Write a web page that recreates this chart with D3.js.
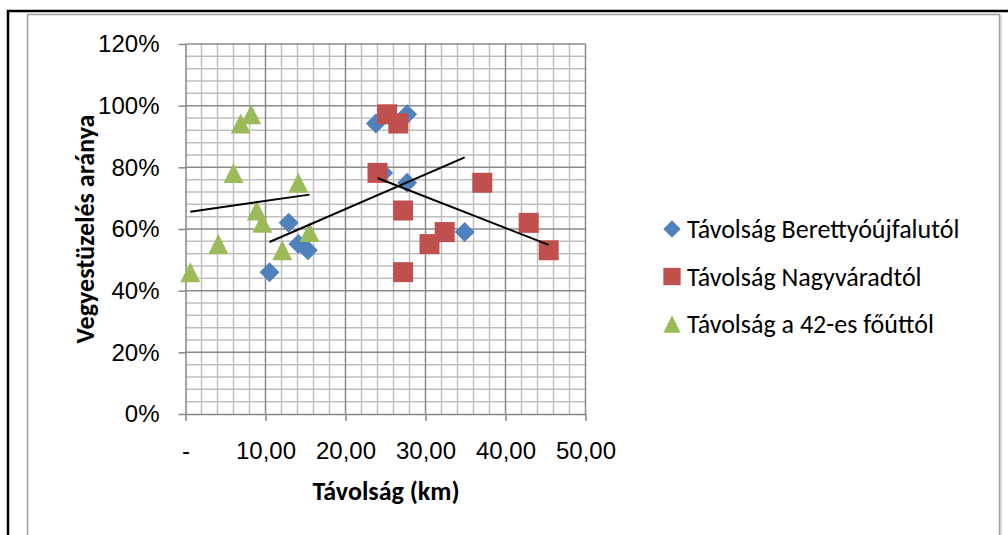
<!DOCTYPE html>
<html>
<head>
<meta charset="utf-8">
<script src="https://cdn.jsdelivr.net/npm/d3@7"></script>
<style>
  body { margin: 0; background: #fff; }
  svg { display: block; font-family: Carlito, Calibri, Lato, sans-serif; }
</style>
</head>
<body>
<script>
// Vegyestüzelés aránya vs. távolság - three series share the same y values
var share = [0.972, 0.942, 0.782, 0.75, 0.66, 0.62, 0.59, 0.551, 0.531, 0.46];
var distBerettyo = [27.7, 23.8, 24.7, 27.7, 27.2, 12.9, 34.9, 14.1, 15.3, 10.5];
var distNagyvarad = [25.2, 26.6, 24.0, 37.1, 27.2, 42.9, 32.4, 30.5, 45.4, 27.2];
var dist42 = [8.2, 6.9, 6.0, 14.1, 8.9, 9.6, 15.5, 4.1, 12.1, 0.6];

var seriesNames = ["Távolság Berettyóújfalutól", "Távolság Nagyváradtól", "Távolság a 42-es főúttól"];
var seriesColors = ["#4F81BD", "#C0504D", "#9BBB59"];

var xTicks = [0, 10, 20, 30, 40, 50];
var yTicks = [0, 0.2, 0.4, 0.6, 0.8, 1.0, 1.2];

var width = 1008,
    height = 535;

var x = d3.scaleLinear().domain([0, 50]).range([185.5, 585.5]);
var y = d3.scaleLinear().domain([0, 1.2]).range([414, 44]);

// Excel-like marker shapes (fill the box)
var diamond = {draw: function (c, s) { var r = Math.sqrt(s) / 2; c.moveTo(0, -r); c.lineTo(r, 0); c.lineTo(0, r); c.lineTo(-r, 0); c.closePath(); }};
var square = {draw: function (c, s) { var r = Math.sqrt(s) / 2; c.rect(-r, -r, 2 * r, 2 * r); }};
var triangle = {draw: function (c, s) { var r = Math.sqrt(s) / 2; c.moveTo(0, -r); c.lineTo(r, r); c.lineTo(-r, r); c.closePath(); }};
var shapes = [diamond, square, triangle];

var svg = d3.select("body").append("svg")
    .attr("width", width)
    .attr("height", height);

svg.append("rect").attr("width", width).attr("height", height).attr("fill", "#fff");

// frames
svg.append("path")
    .attr("d", "M8,535V11H1008")
    .attr("fill", "none").attr("stroke", "#000").attr("stroke-width", 2.5);
svg.append("path")
    .attr("d", "M27.5,535V14.5H999.5V535")
    .attr("fill", "none").attr("stroke", "#a0a0a0").attr("stroke-width", 1.5);
svg.append("line")
    .attr("x1", 1001).attr("x2", 1001).attr("y1", 15).attr("y2", 535)
    .attr("stroke", "#c8c8c8").attr("stroke-width", 1.5);

// minor grid
var g = svg.append("g");
g.selectAll(".vminor")
    .data(d3.range(2, 50, 2).filter(function (d) { return d % 10 != 0; }))
    .enter().append("line")
    .attr("x1", x).attr("x2", x)
    .attr("y1", y(0)).attr("y2", y(1.2))
    .attr("stroke", "#bfbfbf").attr("stroke-width", 1.5);
g.selectAll(".hminor")
    .data(d3.range(1, 30).filter(function (d) { return d % 5 != 0; }).map(function (d) { return d * 0.04; }))
    .enter().append("line")
    .attr("x1", x(0)).attr("x2", x(50))
    .attr("y1", y).attr("y2", y)
    .attr("stroke", "#bfbfbf").attr("stroke-width", 1.5);

// major grid
g.selectAll(".vmajor")
    .data(xTicks.slice(1))
    .enter().append("line")
    .attr("x1", x).attr("x2", x)
    .attr("y1", y(0)).attr("y2", y(1.2))
    .attr("stroke", "#8a8a8a").attr("stroke-width", 1.5);
g.selectAll(".hmajor")
    .data(yTicks.slice(1))
    .enter().append("line")
    .attr("x1", x(0)).attr("x2", x(50))
    .attr("y1", y).attr("y2", y)
    .attr("stroke", "#8a8a8a").attr("stroke-width", 1.5);

// axes
var fmtX = function (d) { return d == 0 ? "-" : d3.format(".2f")(d).replace(".", ","); };

var xAxis = svg.append("g")
    .attr("transform", "translate(0," + y(0) + ")")
    .call(d3.axisBottom(x).tickValues(xTicks).tickFormat(fmtX).tickSize(7).tickSizeOuter(0).tickPadding(21));
var yAxis = svg.append("g")
    .attr("transform", "translate(" + x(0) + ",0)")
    .call(d3.axisLeft(y).tickValues(yTicks).tickFormat(d3.format(".0%")).tickSize(7).tickSizeOuter(0).tickPadding(19));

[xAxis, yAxis].forEach(function (a) {
    a.select(".domain").attr("stroke", "#868686").attr("stroke-width", 1.5);
    a.selectAll(".tick line").attr("stroke", "#868686").attr("stroke-width", 1.5);
    a.selectAll("text").attr("font-family", null).attr("font-size", 24).attr("fill", "#000");
});

// axis titles
svg.append("text")
    .attr("x", 386).attr("y", 500)
    .attr("text-anchor", "middle")
    .attr("font-size", 26).attr("font-weight", "bold")
    .text("Távolság (km)");
svg.append("text")
    .attr("transform", "translate(94,229) rotate(-90)")
    .attr("text-anchor", "middle")
    .attr("font-size", 26).attr("font-weight", "bold")
    .text("Vegyestüzelés aránya");

// points
var allX = [distBerettyo, distNagyvarad, dist42];

allX.forEach(function (xs, i) {
    svg.append("g").selectAll("path")
        .data(xs.map(function (d, j) { return [d, share[j]]; }))
        .enter().append("path")
        .attr("transform", function (d) { return "translate(" + x(d[0]) + "," + y(d[1]) + ")"; })
        .attr("d", d3.symbol().type(shapes[i]).size(400))
        .attr("fill", seriesColors[i]);
});

// linear trendlines
allX.forEach(function (xs) {
    var mx = d3.mean(xs), my = d3.mean(share);
    var sxy = d3.sum(xs, function (d, j) { return (d - mx) * (share[j] - my); });
    var sxx = d3.sum(xs, function (d) { return (d - mx) * (d - mx); });
    var b = sxy / sxx, a = my - b * mx;
    var ext = d3.extent(xs);
    svg.append("line")
        .attr("x1", x(ext[0])).attr("y1", y(a + b * ext[0]))
        .attr("x2", x(ext[1])).attr("y2", y(a + b * ext[1]))
        .attr("stroke", "#000").attr("stroke-width", 2);
});

// legend
var legend = svg.append("g").selectAll("g")
    .data(seriesNames)
    .enter().append("g")
    .attr("transform", function (d, i) { return "translate(672," + (229 + i * 47.5) + ")"; });
legend.append("path")
    .attr("d", function (d, i) { return d3.symbol().type(shapes[i]).size(300)(); })
    .attr("fill", function (d, i) { return seriesColors[i]; });
legend.append("text")
    .attr("x", 15).attr("dy", "0.35em")
    .attr("font-size", 26)
    .text(function (d) { return d; });
</script>
</body>
</html>
